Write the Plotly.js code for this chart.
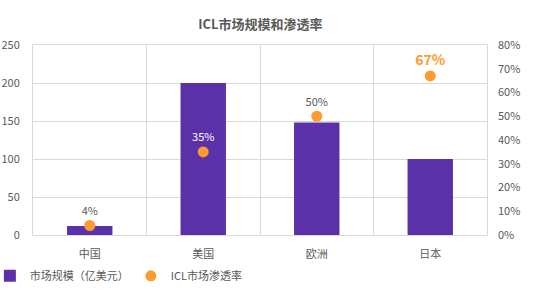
<!DOCTYPE html>
<html><head><meta charset="utf-8">
<script src="https://cdn.plot.ly/plotly-3.0.1.min.js"></script>
<style>html,body{margin:0;padding:0;background:#fff}#c{width:554px;height:293px}</style>
</head><body><div id="c"></div>
<script>
const categories = ["中国", "美国", "欧洲", "日本"];
const marketSize = [12, 200, 148, 100];
const penetration = [0.04, 0.35, 0.50, 0.67];
const penetrationLabels = ["4%", "35%", "50%", "67%"];
const leftTicks = [0, 50, 100, 150, 200, 250];
const rightTicks = [0, 0.1, 0.2, 0.3, 0.4, 0.5, 0.6, 0.7, 0.8];

const font = "Noto Sans CJK SC, Noto Sans, sans-serif";
const grey = "#595959";
const purple = "#5a31a8";
const orange = "#ff9a2e";

const data = [
  {type: "bar", x: categories, y: marketSize, name: "市场规模（亿美元）",
   marker: {color: purple}, width: 0.4, hoverinfo: "skip"},
  {type: "scatter", mode: "markers+text", x: categories, y: penetration, yaxis: "y2",
   name: "ICL市场渗透率", marker: {color: orange, size: 11},
   text: penetrationLabels, textposition: "top center",
   textfont: {family: font, color: [grey, "#ffffff", grey, orange], size: [11, 11, 11, 14],
              weight: [400, 400, 400, 700]}, cliponaxis: false}
];

const layout = {
  width: 554, height: 293,
  margin: {l: 33, r: 67, t: 45, b: 58, autoexpand: false},
  paper_bgcolor: "#fff", plot_bgcolor: "#fff",
  font: {family: font, color: grey, size: 11},
  title: {text: "<b>ICL市场规模和渗透率</b>", font: {family: font, size: 13, color: grey},
          x: 0.47, xanchor: "center", y: 0.915, yanchor: "middle"},
  showlegend: true,
  legend: {orientation: "h", x: -0.095, y: -0.215, xanchor: "left", yanchor: "middle",
           font: {family: font, size: 11, color: grey}, itemwidth: 30, tracegroupgap: 0,
           entrywidth: 96},
  xaxis: {type: "category", tickson: "boundaries", showgrid: true, gridcolor: "#d9d9d9",
          showline: true, linecolor: "#d9d9d9", mirror: true, ticks: "", ticklabelstandoff: 9,
          tickfont: {family: font, size: 11, color: grey}},
  yaxis: {range: [0, 250], tickvals: leftTicks, showgrid: true, gridcolor: "#d9d9d9",
          showline: true, linecolor: "#d9d9d9", mirror: true, zeroline: false,
          ticks: "", ticklabelstandoff: 10, tickfont: {family: font, size: 11, color: grey}},
  yaxis2: {overlaying: "y", side: "right", range: [0, 0.8], tickvals: rightTicks,
           tickformat: ".0%", showgrid: false, zeroline: false, ticks: "",
           ticklabelstandoff: 10, tickfont: {family: font, size: 11, color: grey}},
  bargap: 0.6
};

Plotly.newPlot("c", data, layout, {displayModeBar: false, staticPlot: true});
</script></body></html>
